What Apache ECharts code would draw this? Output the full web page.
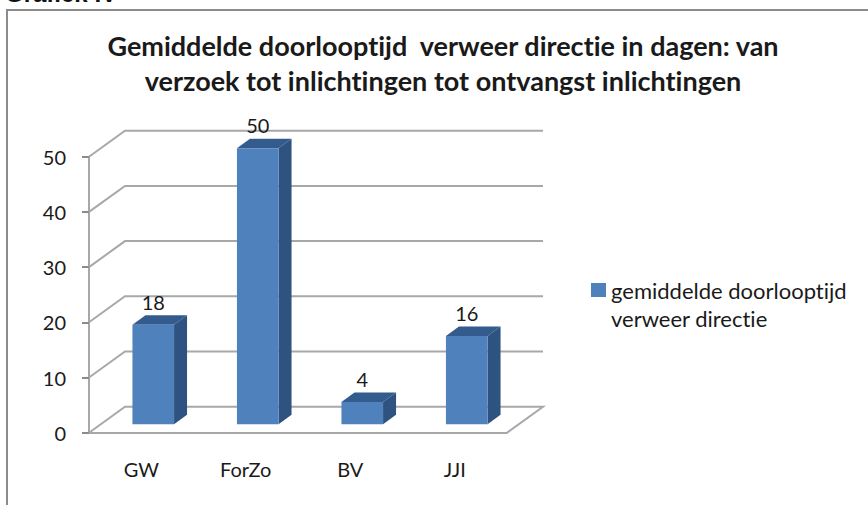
<!DOCTYPE html>
<html>
<head>
<meta charset="utf-8">
<title>Grafiek IV</title>
<script src="https://cdn.jsdelivr.net/npm/echarts@6/dist/echarts.min.js"></script>
<style>
  html, body { margin: 0; padding: 0; background: #fff; }
  #chart { width: 868px; height: 505px; }
  #chart text { font-variant-ligatures: none; }
</style>
</head>
<body>
<div id="chart"></div>
<script>
const categories = ['GW', 'ForZo', 'BV', 'JJI']
const doorlooptijd = [18, 50, 4, 16]
const gridTicks = [0, 10, 20, 30, 40, 50]
const seriesName = 'gemiddelde doorlooptijd\nverweer directie'
const titleText = 'Gemiddelde doorlooptijd  verweer directie in dagen: van\nverzoek tot inlichtingen tot ontvangst inlichtingen'

const font = 'Lato'
const textColor = '#1a1a1a'
const gridColor = '#a8a8a8'

// nep-3D: achterwand ligt 36/26 px verschoven, de balken staan er midden tussen
const wallDx = 36, wallDy = -26
const barDx = 12, barDy = -8.5
const sideDx = 13, sideDy = -9.5
const barWidth = 41.6

// svg-renderer zodat de css hierboven de ti-ligaturen van Lato kan uitzetten
const chart = echarts.init(document.getElementById('chart'), null, { renderer: 'svg' })

function renderWall(params, api) {
  const v = api.value(0)
  const size = api.size([1, 0])[0]
  const p = api.coord([0, v])
  const left = p[0] - size / 2
  const right = left + size * categories.length
  const style = { stroke: gridColor, lineWidth: 2, fill: null }
  const points = [[left, p[1]], [left + wallDx, p[1] + wallDy], [right + wallDx, p[1] + wallDy]]
  if (v === 0) points.push([right, p[1]])
  return { type: 'polyline', shape: { points }, style }
}

function renderBar(params, api) {
  const top = api.coord([api.value(0), api.value(1)])
  const base = api.coord([api.value(0), 0])
  const x0 = top[0] + barDx - barWidth / 2
  const x1 = x0 + barWidth
  const y0 = top[1] + barDy
  const y1 = base[1] + barDy
  return {
    type: 'group',
    children: [
      { type: 'polygon', shape: { points: [[x1, y0], [x1 + sideDx, y0 + sideDy], [x1 + sideDx, y1 + sideDy], [x1, y1]] }, style: { fill: '#2f5380' } },
      { type: 'polygon', shape: { points: [[x0, y0], [x0 + sideDx, y0 + sideDy], [x1 + sideDx, y0 + sideDy], [x1, y0]] }, style: { fill: '#345b8e' } },
      { type: 'rect', shape: { x: x0, y: y0, width: barWidth, height: y1 - y0 }, style: { fill: '#4f81bd' } },
      { type: 'text', x: (x0 + x1) / 2, y: y0 - 23, style: { text: String(api.value(1)), font: '20px ' + font, fill: textColor, align: 'center', verticalAlign: 'middle' } }
    ]
  }
}

chart.setOption({
  animation: false,
  backgroundColor: '#fff',
  textStyle: { fontFamily: font },
  title: {
    text: titleText,
    left: 438,
    top: 23,
    textAlign: 'center',
    textStyle: { fontFamily: font, fontSize: 27, fontWeight: 'bold', color: textColor, lineHeight: 35 }
  },
  legend: {
    left: 586,
    top: 271,
    orient: 'vertical',
    icon: 'path://M0,7H15V21H0Z M0,0L0,0 M0,56L0,56',
    itemWidth: 15,
    itemHeight: 56,
    itemGap: 0,
    selectedMode: false,
    textStyle: { fontFamily: font, fontSize: 22, color: textColor, lineHeight: 28 },
    data: [{ name: seriesName, itemStyle: { color: '#4f81bd' } }]
  },
  grid: { left: 89, right: 361, top: 156.7, bottom: 72.3 },
  xAxis: {
    type: 'category',
    data: categories,
    axisLine: { lineStyle: { color: gridColor, width: 2 } },
    axisTick: { length: 7, lineStyle: { color: '#8c8c8c', width: 2 } },
    axisLabel: { color: textColor, fontSize: 20, margin: 26 }
  },
  yAxis: {
    type: 'value',
    min: 0,
    max: 50,
    interval: 10,
    splitLine: { show: false },
    axisLine: { show: true, lineStyle: { color: gridColor, width: 2 } },
    axisTick: { show: true, length: 7, lineStyle: { color: '#8c8c8c', width: 2 } },
    axisLabel: { color: textColor, fontSize: 20, margin: 23 }
  },
  graphic: [
    { type: 'rect', z: -1, shape: { x: 7, y: 10, width: 880, height: 520 }, style: { fill: 'none', stroke: '#8c8c8c', lineWidth: 2 } },
    { type: 'text', x: 5, y: -19, style: { text: 'Grafiek IV', font: 'bold 24px "Liberation Sans"', fill: '#111' } }
  ],
  series: [
    {
      name: 'wand',
      type: 'custom',
      z: 1,
      silent: true,
      renderItem: renderWall,
      encode: { y: 0 },
      data: gridTicks.map(v => [v])
    },
    {
      name: seriesName,
      type: 'custom',
      z: 2,
      renderItem: renderBar,
      itemStyle: { color: '#4f81bd' },
      encode: { x: 0, y: 1 },
      data: doorlooptijd.map((v, i) => [i, v])
    }
  ]
})
</script>
</body>
</html>
